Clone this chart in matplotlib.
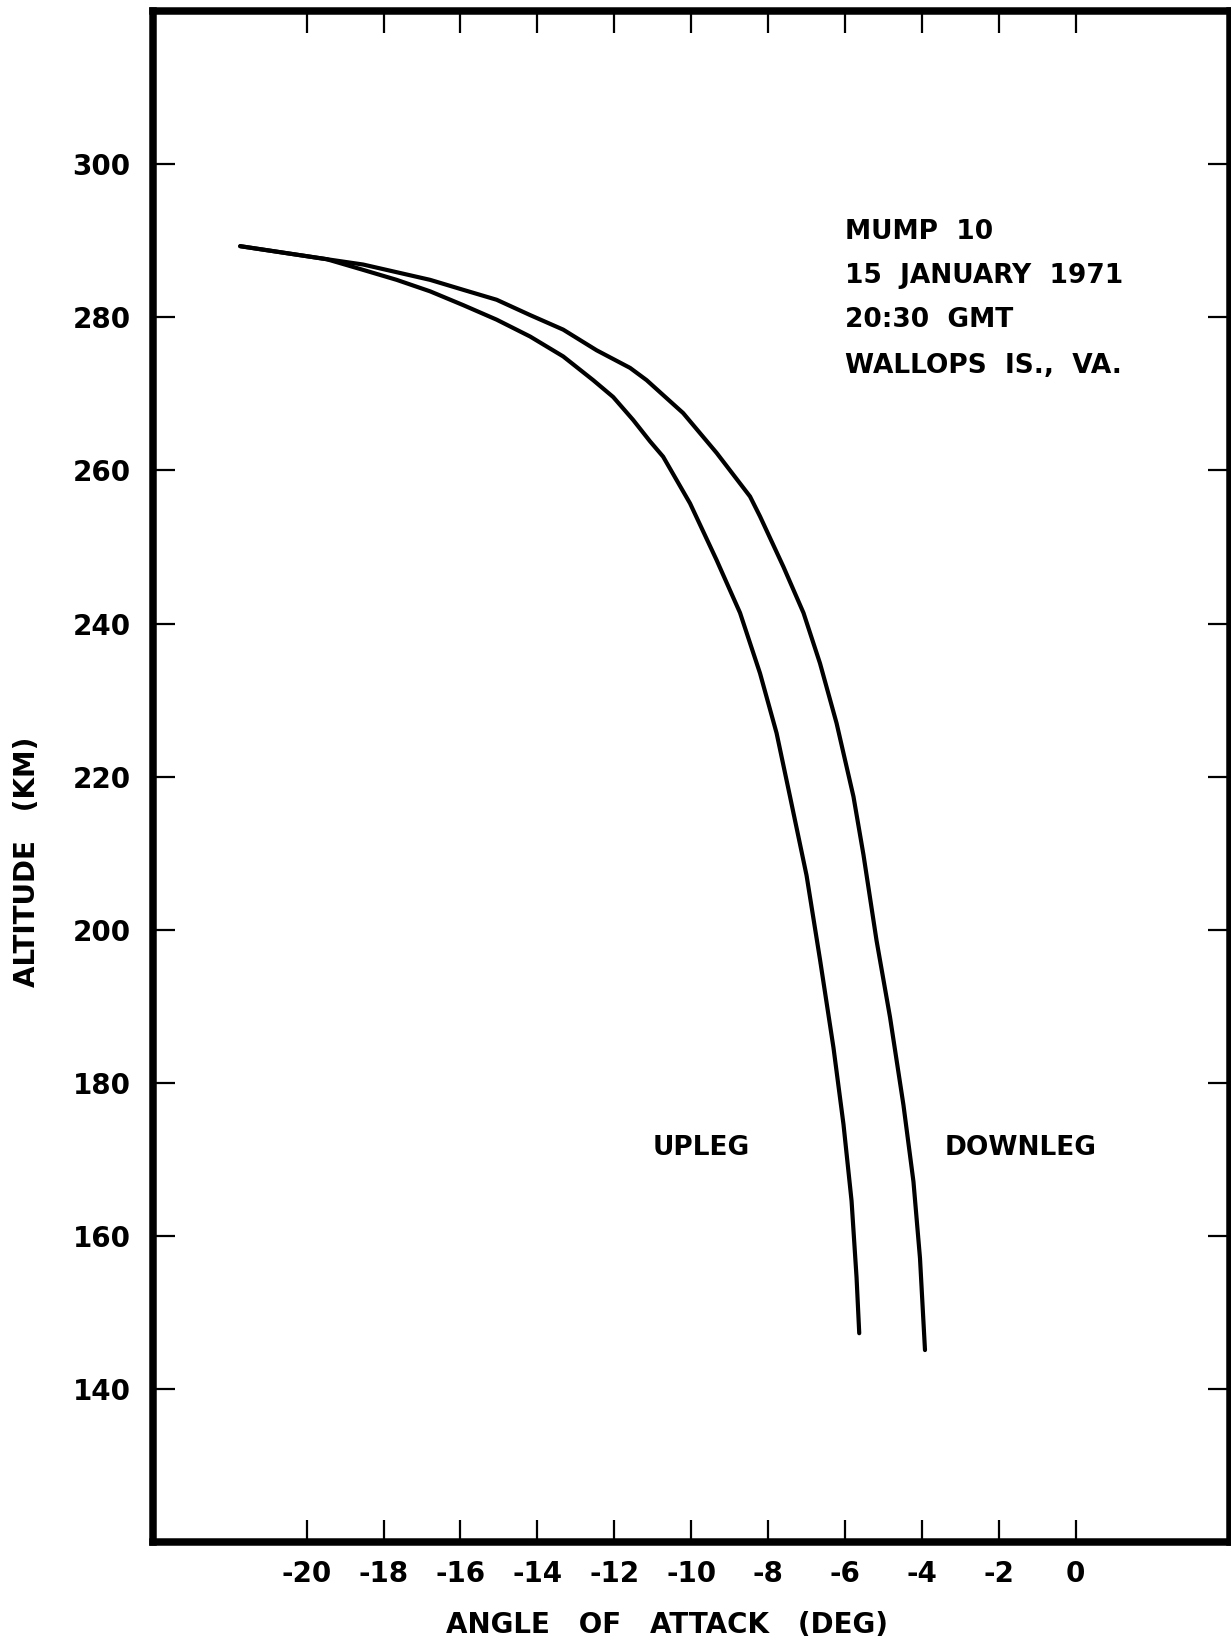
import matplotlib
matplotlib.use("Agg")
import matplotlib.pyplot as plt

# angle of attack (deg) vs altitude (km)
UPLEG_AOA = [-21.73, -19.48, -18.53, -17.66, -16.79, -15.93, -15.06, -14.19,
             -13.33, -12.55, -12.03, -11.51, -11.07, -10.73, -10.03, -9.34,
             -8.73, -8.21, -7.78, -7.43, -7.00, -6.65, -6.30, -6.04,
             -5.83, -5.70, -5.63]
UPLEG_ALT = [289.3, 287.6, 286.2, 284.9, 283.4, 281.6, 279.7, 277.5,
             274.9, 271.8, 269.6, 266.6, 263.8, 261.8, 255.7, 248.3,
             241.4, 233.5, 225.7, 217.4, 207.1, 196.1, 184.6, 174.6,
             164.6, 154.6, 147.3]

DOWNLEG_AOA = [-21.73, -19.48, -18.53, -17.66, -16.79, -15.93, -15.06, -14.19,
               -13.33, -12.46, -11.59, -11.16, -10.21, -9.34, -8.47, -8.21,
               -7.60, -7.08, -6.65, -6.22, -5.78, -5.52, -5.18, -4.83,
               -4.48, -4.22, -4.05, -3.92]
DOWNLEG_ALT = [289.3, 287.6, 286.9, 285.9, 284.9, 283.6, 282.3, 280.3,
               278.4, 275.7, 273.4, 271.8, 267.5, 262.3, 256.6, 254.0,
               247.4, 241.4, 234.8, 227.0, 217.4, 209.8, 198.6, 188.6,
               177.1, 167.1, 157.1, 145.1]

X_TICKS = list(range(-20, 1, 2))
Y_TICKS = list(range(140, 301, 20))

INFO_LINES = ["MUMP  10", "15  JANUARY  1971", "20:30  GMT", "WALLOPS  IS.,  VA."]
INFO_ALT = [291.2, 285.4, 279.6, 273.6]


def main() -> None:
    plt.rcParams["font.family"] = "DejaVu Sans"
    plt.rcParams["font.weight"] = "bold"
    plt.rcParams["axes.unicode_minus"] = False

    fig = plt.figure(figsize=(12.31, 16.41), dpi=100)
    ax = fig.add_axes([0.1242, 0.0602, 0.8746, 0.933])

    ax.plot(UPLEG_AOA, UPLEG_ALT, color="black", linewidth=3.0,
            solid_capstyle="round", solid_joinstyle="round")
    ax.plot(DOWNLEG_AOA, DOWNLEG_ALT, color="black", linewidth=3.0,
            solid_capstyle="round", solid_joinstyle="round")

    ax.set_xlim(-24, 4)
    ax.set_ylim(120, 320)
    ax.set_xticks(X_TICKS)
    ax.set_xticklabels([str(v) for v in X_TICKS])
    ax.set_yticks(Y_TICKS)
    ax.set_yticklabels([str(v) for v in Y_TICKS])

    for spine in ax.spines.values():
        spine.set_linewidth(5.4)
    ax.tick_params(axis="both", direction="in", length=16, width=1.6,
                   top=True, right=True, labelsize=20)
    ax.tick_params(axis="x", pad=13)
    ax.tick_params(axis="y", pad=16)

    ax.set_xlabel("ANGLE   OF   ATTACK   (DEG)", fontsize=20, fontweight="bold")
    ax.xaxis.set_label_coords(0.4775, -0.045)
    ax.set_ylabel("ALTITUDE   (KM)", fontsize=20, fontweight="bold")
    ax.yaxis.set_label_coords(-0.104, 0.4445)

    for line, alt in zip(INFO_LINES, INFO_ALT):
        ax.text(-6.0, alt, line, fontsize=19, fontweight="bold", ha="left", va="center")

    ax.text(-11.0, 171.5, "UPLEG", fontsize=19, fontweight="bold", ha="left", va="center")
    ax.text(-3.4, 171.5, "DOWNLEG", fontsize=19, fontweight="bold", ha="left", va="center")

    fig.savefig("out.png", dpi=100)


if __name__ == "__main__":
    main()
